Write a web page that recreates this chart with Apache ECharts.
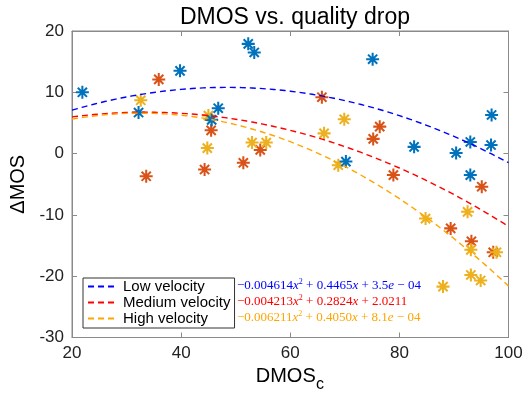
<!DOCTYPE html>
<html>
<head>
<meta charset="utf-8">
<script src="https://cdn.jsdelivr.net/npm/echarts@6/dist/echarts.min.js"></script>
<style>html,body{margin:0;padding:0;background:#fff}#c{width:528px;height:395px}</style>
</head>
<body>
<div id="c"></div>
<script>
// ---- data ----
const titleText = 'DMOS vs. quality drop';
const xName = 'DMOS';
const xNameSub = 'c';
const yName = 'ΔMOS';
const xTicks = [20, 40, 60, 80, 100];
const yTicks = [-30, -20, -10, 0, 10, 20];
const seriesNames = ['Low velocity', 'Medium velocity', 'High velocity'];

const lowDMOS   = [21.9, 32.2, 39.8, 46.8, 45.6, 52.3, 53.4, 75.1, 82.7, 90.4, 93.0, 96.9, 96.8, 70.2, 93.0];
const lowDelta  = [10.0, 6.7, 13.5, 7.4, 5.5, 17.9, 16.5, 15.4, 1.1, 0.1, 1.9, 6.3, 1.4, -1.3, -3.5];

const medDMOS   = [35.9, 45.5, 54.5, 51.4, 44.3, 33.6, 65.8, 76.4, 75.2, 78.9, 95.1, 89.4, 93.2, 97.2];
const medDelta  = [12.1, 3.8, 0.6, -1.5, -2.6, -3.7, 9.2, 4.4, 2.4, -3.5, -5.4, -12.2, -14.3, -16.1];

const highDMOS  = [32.6, 45.0, 44.8, 53.0, 55.6, 69.9, 66.2, 68.8, 84.8, 92.5, 93.1, 97.8, 93.1, 94.9, 88.0];
const highDelta = [8.7, 6.2, 0.9, 1.8, 1.8, 5.6, 3.3, -1.9, -10.6, -9.5, -15.7, -16.1, -19.8, -20.7, -21.7];

// quadratic fit coefficients [a, b, c] as printed on the chart
const lowFit  = [-0.004614, 0.4465, 3.5e-4];
const medFit  = [-0.004213, 0.2824, 2.0211];
const highFit = [-0.006211, 0.4050, 8.1e-4];
const fitRange = [20, 100];

const eqTexts = [
  ['−0.004614', '0.4465', '3.5', ' − 04'],
  ['−0.004213', '0.2824', '2.0211', null],
  ['−0.006211', '0.4050', '8.1', ' − 04']
];

// ---- styling ----
const markerColors = ['#0072BD', '#D95319', '#EDB120'];
const lineColors = ['#0000FF', '#FF0000', '#FFA500'];
const star = 'path://M-7,-1.1L7,-1.1L7,1.1L-7,1.1Z' +
  'M1.1,-7L1.1,7L-1.1,7L-1.1,-7Z' +
  'M-4.17,-5.73L5.73,4.17L4.17,5.73L-5.73,-4.17Z' +
  'M-5.73,4.17L4.17,-5.73L5.73,-4.17L-4.17,5.73Z';

function pairs(xs, ys) { return xs.map((x, i) => [x, ys[i]]); }
function fitCurve(coef) {
  const pts = [];
  for (let x = fitRange[0]; x <= fitRange[1]; x += 1) {
    pts.push([x, coef[0] * x * x + coef[1] * x + coef[2]]);
  }
  return pts;
}
function eqRich(parts) {
  let s = '{n|' + parts[0] + '}{i|x}{s|2}{n| + ' + parts[1] + '}{i|x}{n| + ' + parts[2] + '}';
  if (parts[3]) s += '{i|e}{n|' + parts[3] + '}';
  return s;
}

const chart = echarts.init(document.getElementById('c'), null, {renderer: 'canvas'});
const sans = 'Liberation Sans, Helvetica, Arial, sans-serif';
const serif = 'Liberation Serif, DejaVu Serif, serif';
const axisGray = '#8a8a8a';

function scatter(name, data, color) {
  return {
    type: 'scatter', name: name, data: data, symbol: star, symbolSize: 13,
    itemStyle: {color: color, opacity: 1}, z: 2, silent: true
  };
}
function fitLine(name, coef, color) {
  return {
    type: 'line', name: name, data: fitCurve(coef), showSymbol: false, symbol: 'none',
    smooth: false, lineStyle: {color: color, width: 1.4, type: [6, 4]},
    itemStyle: {color: color}, z: 3, silent: true
  };
}

const eqGraphics = eqTexts.map((p, i) => ({
  type: 'text', left: 237, top: 278 + i * 16, z: 100, silent: true,
  style: {
    text: eqRich(p),
    rich: {
      n: {fontFamily: serif, fontSize: 13, fill: lineColors[i], lineHeight: 16},
      i: {fontFamily: serif, fontStyle: 'italic', fontSize: 13, fill: lineColors[i], lineHeight: 16},
      s: {fontFamily: serif, fontSize: 8, fill: lineColors[i], lineHeight: 16, verticalAlign: 'top', padding: [0, 0, 6, 0]}
    }
  }
}));

const option = {
  animation: false,
  backgroundColor: '#fff',
  title: {
    text: titleText, left: 290, top: 1, textAlign: 'center',
    textStyle: {fontFamily: sans, fontSize: 23, fontWeight: 'normal', color: '#000'}
  },
  grid: {left: 72, right: 19.5, top: 31, bottom: 57.5, show: true, borderColor: axisGray, borderWidth: 1,
         containLabel: false, outerBoundsMode: 'none'},
  legend: {
    data: seriesNames, orient: 'vertical', left: 83, top: 278,
    itemWidth: 30, itemHeight: 10, itemGap: 1,
    padding: [1, 4, 2, 4], borderColor: '#333', borderWidth: 1, backgroundColor: '#fff',
    itemStyle: {opacity: 0},
    textStyle: {fontFamily: sans, fontSize: 15, color: '#000', lineHeight: 15},
    selectedMode: false
  },
  xAxis: [{
    type: 'value', min: 20, max: 100, interval: 20, position: 'bottom',
    name: xName, nameLocation: 'middle', nameGap: 28,
    nameTextStyle: {fontFamily: sans, fontSize: 20, color: '#000', padding: [0, 9, 0, 0]},
    axisLine: {show: true, onZero: false, lineStyle: {color: axisGray}},
    axisTick: {inside: true, length: 5, lineStyle: {color: axisGray}},
    axisLabel: {fontFamily: sans, fontSize: 17, color: '#222', margin: 7},
    splitLine: {show: false}
  }, {
    type: 'value', min: 20, max: 100, interval: 20, position: 'top',
    axisLine: {show: true, onZero: false, lineStyle: {color: axisGray}},
    axisTick: {inside: true, length: 5, lineStyle: {color: axisGray}},
    axisLabel: {show: false}, splitLine: {show: false}
  }],
  yAxis: [{
    type: 'value', min: -30, max: 20, interval: 10, position: 'left',
    name: yName, nameLocation: 'middle', nameGap: 44,
    nameTextStyle: {fontFamily: sans, fontSize: 20, color: '#000'},
    axisLine: {show: true, onZero: false, lineStyle: {color: axisGray}},
    axisTick: {inside: true, length: 5, lineStyle: {color: axisGray}},
    axisLabel: {fontFamily: sans, fontSize: 17, color: '#222', margin: 8},
    splitLine: {show: false}
  }, {
    type: 'value', min: -30, max: 20, interval: 10, position: 'right',
    axisLine: {show: true, onZero: false, lineStyle: {color: axisGray}},
    axisTick: {inside: true, length: 5, lineStyle: {color: axisGray}},
    axisLabel: {show: false}, splitLine: {show: false}
  }],
  series: [
    scatter('medPts', pairs(medDMOS, medDelta), markerColors[1]),
    scatter('highPts', pairs(highDMOS, highDelta), markerColors[2]),
    scatter('lowPts', pairs(lowDMOS, lowDelta), markerColors[0]),
    fitLine(seriesNames[0], lowFit, lineColors[0]),
    fitLine(seriesNames[1], medFit, lineColors[1]),
    fitLine(seriesNames[2], highFit, lineColors[2])
  ],
  graphic: eqGraphics.concat([{
    type: 'text', left: 316, top: 377, z: 100, silent: true,
    style: {text: xNameSub, fontFamily: sans, fontSize: 16, fill: '#000'}
  }])
};
chart.setOption(option);
</script>
</body>
</html>
